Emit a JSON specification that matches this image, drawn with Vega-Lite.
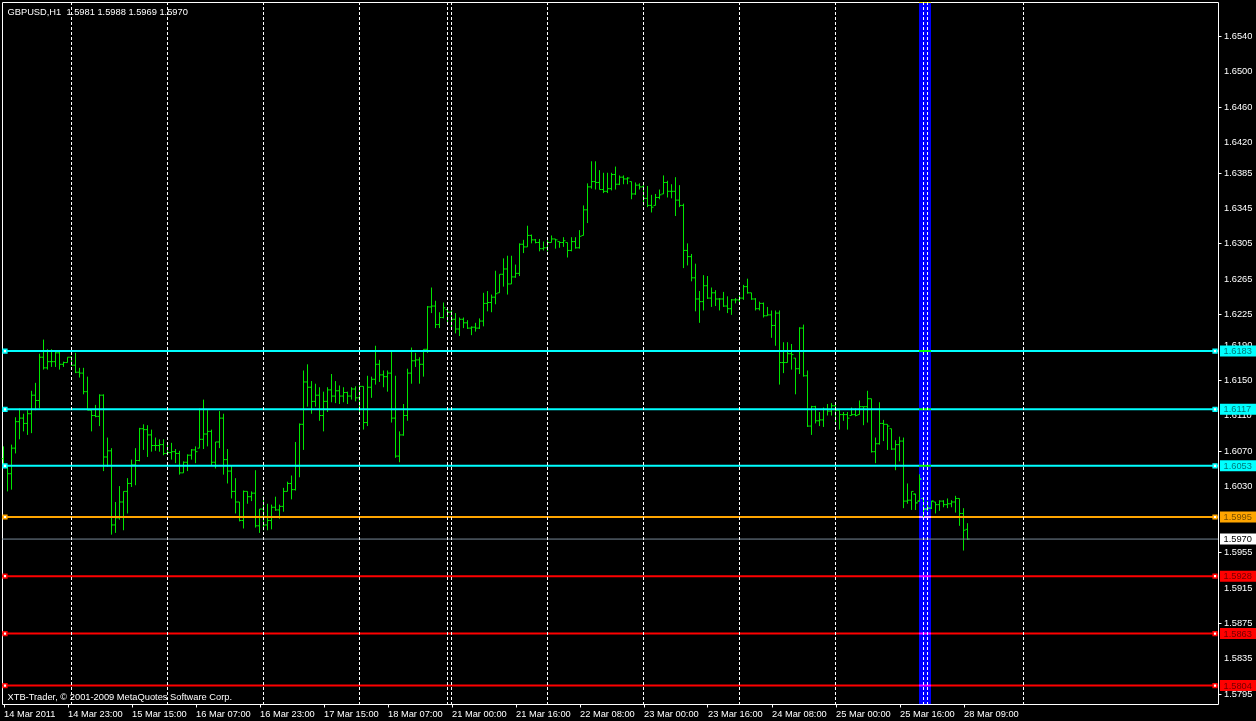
{
  "$schema": "https://vega.github.io/schema/vega-lite/v6.json",
  "width": 1216,
  "height": 702,
  "autosize": {"type": "none"},
  "padding": {"left": 2, "top": 2, "right": 38, "bottom": 17},
  "background": "#000000",
  "config": {"view": {"stroke": "#ffffff", "strokeWidth": 1, "fill": "#000000"}, "font": "Liberation Sans", "axis": {"labelOverlap": false, "labelFlush": false}},
  "datasets": {
    "levels": [
      {"price": 1.6183, "kind": "resistance"},
      {"price": 1.6117, "kind": "resistance"},
      {"price": 1.6053, "kind": "resistance"},
      {"price": 1.5995, "kind": "pivot"},
      {"price": 1.5970, "kind": "bid"},
      {"price": 1.5928, "kind": "support"},
      {"price": 1.5863, "kind": "support"},
      {"price": 1.5804, "kind": "support"}
    ],
    "yticks": [{"v": 1.654}, {"v": 1.65}, {"v": 1.646}, {"v": 1.642}, {"v": 1.6385}, {"v": 1.6345}, {"v": 1.6305}, {"v": 1.6265}, {"v": 1.6225}, {"v": 1.619}, {"v": 1.615}, {"v": 1.611}, {"v": 1.607}, {"v": 1.603}, {"v": 1.5955}, {"v": 1.5915}, {"v": 1.5875}, {"v": 1.5835}, {"v": 1.5795}],
    "marker": [{"name": "weekend marker"}],
    "days": [{"i": 17}, {"i": 41}, {"i": 65}, {"i": 89}, {"i": 111}, {"i": 112}, {"i": 136}, {"i": 160}, {"i": 184}, {"i": 208}, {"i": 230}, {"i": 231}, {"i": 255}],
    "bars": [
      {"i":0,"o":1.6061,"h":1.6075,"l":1.6052,"c":1.6054},
      {"i":1,"o":1.6053,"h":1.6053,"l":1.6024,"c":1.6044},
      {"i":2,"o":1.6044,"h":1.6077,"l":1.6026,"c":1.6073},
      {"i":3,"o":1.6073,"h":1.6108,"l":1.6067,"c":1.6103},
      {"i":4,"o":1.6103,"h":1.6118,"l":1.6083,"c":1.6107},
      {"i":5,"o":1.6107,"h":1.6112,"l":1.6092,"c":1.6101},
      {"i":6,"o":1.6101,"h":1.6116,"l":1.6088,"c":1.6112},
      {"i":7,"o":1.6112,"h":1.6138,"l":1.6090,"c":1.6133},
      {"i":8,"o":1.6133,"h":1.6147,"l":1.6116,"c":1.6127},
      {"i":9,"o":1.6127,"h":1.6180,"l":1.6118,"c":1.6176},
      {"i":10,"o":1.6176,"h":1.6196,"l":1.6162,"c":1.6164},
      {"i":11,"o":1.6164,"h":1.6185,"l":1.6162,"c":1.6171},
      {"i":12,"o":1.6171,"h":1.6185,"l":1.6165,"c":1.6171},
      {"i":13,"o":1.6171,"h":1.6183,"l":1.6165,"c":1.6181},
      {"i":14,"o":1.6181,"h":1.6182,"l":1.6162,"c":1.6168},
      {"i":15,"o":1.6168,"h":1.6171,"l":1.6165,"c":1.6170},
      {"i":16,"o":1.6170,"h":1.6176,"l":1.6170,"c":1.6176},
      {"i":17,"o":1.6176,"h":1.6177,"l":1.6166,"c":1.6167},
      {"i":18,"o":1.6167,"h":1.6181,"l":1.6158,"c":1.6159},
      {"i":19,"o":1.6159,"h":1.6164,"l":1.6153,"c":1.6158},
      {"i":20,"o":1.6158,"h":1.6164,"l":1.6134,"c":1.6137},
      {"i":21,"o":1.6137,"h":1.6154,"l":1.6116,"c":1.6116},
      {"i":22,"o":1.6116,"h":1.6116,"l":1.6092,"c":1.6110},
      {"i":23,"o":1.6110,"h":1.6122,"l":1.6108,"c":1.6109},
      {"i":24,"o":1.6109,"h":1.6134,"l":1.6098,"c":1.6133},
      {"i":25,"o":1.6133,"h":1.6134,"l":1.6047,"c":1.6063},
      {"i":26,"o":1.6063,"h":1.6085,"l":1.6052,"c":1.6070},
      {"i":27,"o":1.6070,"h":1.6073,"l":1.5975,"c":1.5986},
      {"i":28,"o":1.5986,"h":1.6012,"l":1.5977,"c":1.5994},
      {"i":29,"o":1.5994,"h":1.6030,"l":1.5992,"c":1.6012},
      {"i":30,"o":1.6012,"h":1.6024,"l":1.5980,"c":1.6024},
      {"i":31,"o":1.6024,"h":1.6039,"l":1.5999,"c":1.6033},
      {"i":32,"o":1.6033,"h":1.6060,"l":1.6029,"c":1.6054},
      {"i":33,"o":1.6054,"h":1.6073,"l":1.6031,"c":1.6059},
      {"i":34,"o":1.6059,"h":1.6096,"l":1.6058,"c":1.6095},
      {"i":35,"o":1.6095,"h":1.6100,"l":1.6071,"c":1.6094},
      {"i":36,"o":1.6094,"h":1.6099,"l":1.6063,"c":1.6088},
      {"i":37,"o":1.6088,"h":1.6094,"l":1.6069,"c":1.6076},
      {"i":38,"o":1.6076,"h":1.6085,"l":1.6070,"c":1.6076},
      {"i":39,"o":1.6076,"h":1.6083,"l":1.6069,"c":1.6077},
      {"i":40,"o":1.6077,"h":1.6083,"l":1.6065,"c":1.6067},
      {"i":41,"o":1.6067,"h":1.6078,"l":1.6065,"c":1.6068},
      {"i":42,"o":1.6068,"h":1.6079,"l":1.6060,"c":1.6069},
      {"i":43,"o":1.6069,"h":1.6072,"l":1.6056,"c":1.6067},
      {"i":44,"o":1.6067,"h":1.6070,"l":1.6043,"c":1.6045},
      {"i":45,"o":1.6045,"h":1.6058,"l":1.6045,"c":1.6057},
      {"i":46,"o":1.6057,"h":1.6066,"l":1.6047,"c":1.6065},
      {"i":47,"o":1.6065,"h":1.6072,"l":1.6060,"c":1.6071},
      {"i":48,"o":1.6071,"h":1.6075,"l":1.6056,"c":1.6069},
      {"i":49,"o":1.6073,"h":1.6118,"l":1.6073,"c":1.6083},
      {"i":50,"o":1.6083,"h":1.6128,"l":1.6072,"c":1.6089},
      {"i":51,"o":1.6089,"h":1.6116,"l":1.6075,"c":1.6092},
      {"i":52,"o":1.6092,"h":1.6094,"l":1.6053,"c":1.6057},
      {"i":53,"o":1.6057,"h":1.6080,"l":1.6050,"c":1.6080},
      {"i":54,"o":1.6080,"h":1.6115,"l":1.6073,"c":1.6107},
      {"i":55,"o":1.6107,"h":1.6112,"l":1.6043,"c":1.6060},
      {"i":56,"o":1.6060,"h":1.6072,"l":1.6033,"c":1.6047},
      {"i":57,"o":1.6047,"h":1.6053,"l":1.6016,"c":1.6024},
      {"i":58,"o":1.6024,"h":1.6039,"l":1.5999,"c":1.6012},
      {"i":59,"o":1.6012,"h":1.6012,"l":1.5990,"c":1.5991},
      {"i":60,"o":1.5991,"h":1.6025,"l":1.5982,"c":1.6024},
      {"i":61,"o":1.6024,"h":1.6024,"l":1.6010,"c":1.6018},
      {"i":62,"o":1.6018,"h":1.6024,"l":1.6013,"c":1.6022},
      {"i":63,"o":1.6022,"h":1.6048,"l":1.5983,"c":1.5985},
      {"i":64,"o":1.5985,"h":1.6004,"l":1.5977,"c":1.6004},
      {"i":65,"o":1.6004,"h":1.6018,"l":1.5980,"c":1.5986},
      {"i":66,"o":1.5986,"h":1.6010,"l":1.5980,"c":1.5991},
      {"i":67,"o":1.5991,"h":1.6009,"l":1.5981,"c":1.6006},
      {"i":68,"o":1.6006,"h":1.6018,"l":1.6002,"c":1.6003},
      {"i":69,"o":1.6003,"h":1.6009,"l":1.5993,"c":1.6007},
      {"i":70,"o":1.6007,"h":1.6028,"l":1.6001,"c":1.6024},
      {"i":71,"o":1.6024,"h":1.6035,"l":1.6024,"c":1.6033},
      {"i":72,"o":1.6033,"h":1.6042,"l":1.6015,"c":1.6026},
      {"i":73,"o":1.6026,"h":1.6080,"l":1.6025,"c":1.6053},
      {"i":74,"o":1.6053,"h":1.6101,"l":1.6040,"c":1.6100},
      {"i":75,"o":1.6100,"h":1.6161,"l":1.6071,"c":1.6148},
      {"i":76,"o":1.6148,"h":1.6168,"l":1.6120,"c":1.6142},
      {"i":77,"o":1.6142,"h":1.6149,"l":1.6112,"c":1.6126},
      {"i":78,"o":1.6126,"h":1.6146,"l":1.6120,"c":1.6133},
      {"i":79,"o":1.6133,"h":1.6142,"l":1.6104,"c":1.6110},
      {"i":80,"o":1.6110,"h":1.6137,"l":1.6092,"c":1.6126},
      {"i":81,"o":1.6126,"h":1.6142,"l":1.6114,"c":1.6139},
      {"i":82,"o":1.6139,"h":1.6157,"l":1.6125,"c":1.6132},
      {"i":83,"o":1.6132,"h":1.6149,"l":1.6124,"c":1.6138},
      {"i":84,"o":1.6138,"h":1.6144,"l":1.6123,"c":1.6132},
      {"i":85,"o":1.6132,"h":1.6142,"l":1.6125,"c":1.6136},
      {"i":86,"o":1.6136,"h":1.6137,"l":1.6123,"c":1.6132},
      {"i":87,"o":1.6132,"h":1.6142,"l":1.6128,"c":1.6140},
      {"i":88,"o":1.6140,"h":1.6143,"l":1.6126,"c":1.6130},
      {"i":89,"o":1.6130,"h":1.6144,"l":1.6114,"c":1.6143},
      {"i":90,"o":1.6143,"h":1.6143,"l":1.6094,"c":1.6102},
      {"i":91,"o":1.6102,"h":1.6155,"l":1.6098,"c":1.6142},
      {"i":92,"o":1.6142,"h":1.6154,"l":1.6130,"c":1.6151},
      {"i":93,"o":1.6151,"h":1.6189,"l":1.6145,"c":1.6168},
      {"i":94,"o":1.6168,"h":1.6173,"l":1.6148,"c":1.6156},
      {"i":95,"o":1.6156,"h":1.6161,"l":1.6142,"c":1.6154},
      {"i":96,"o":1.6154,"h":1.6161,"l":1.6137,"c":1.6158},
      {"i":97,"o":1.6158,"h":1.6183,"l":1.6102,"c":1.6107},
      {"i":98,"o":1.6107,"h":1.6155,"l":1.6062,"c":1.6064},
      {"i":99,"o":1.6064,"h":1.6092,"l":1.6057,"c":1.6088},
      {"i":100,"o":1.6088,"h":1.6123,"l":1.6087,"c":1.6110},
      {"i":101,"o":1.6110,"h":1.6163,"l":1.6104,"c":1.6158},
      {"i":102,"o":1.6158,"h":1.6187,"l":1.6146,"c":1.6172},
      {"i":103,"o":1.6172,"h":1.6181,"l":1.6165,"c":1.6173},
      {"i":104,"o":1.6173,"h":1.6176,"l":1.6146,"c":1.6168},
      {"i":105,"o":1.6168,"h":1.6185,"l":1.6154,"c":1.6185},
      {"i":106,"o":1.6185,"h":1.6234,"l":1.6181,"c":1.6233},
      {"i":107,"o":1.6233,"h":1.6255,"l":1.6226,"c":1.6234},
      {"i":108,"o":1.6234,"h":1.6240,"l":1.6209,"c":1.6213},
      {"i":109,"o":1.6213,"h":1.6227,"l":1.6209,"c":1.6221},
      {"i":110,"o":1.6221,"h":1.6238,"l":1.6220,"c":1.6232},
      {"i":111,"o":1.6230,"h":1.6230,"l":1.6213,"c":1.6227},
      {"i":112,"o":1.6227,"h":1.6229,"l":1.6209,"c":1.6219},
      {"i":113,"o":1.6219,"h":1.6226,"l":1.6203,"c":1.6208},
      {"i":114,"o":1.6208,"h":1.6221,"l":1.6200,"c":1.6219},
      {"i":115,"o":1.6219,"h":1.6221,"l":1.6209,"c":1.6215},
      {"i":116,"o":1.6215,"h":1.6218,"l":1.6208,"c":1.6209},
      {"i":117,"o":1.6209,"h":1.6211,"l":1.6201,"c":1.6210},
      {"i":118,"o":1.6210,"h":1.6215,"l":1.6205,"c":1.6209},
      {"i":119,"o":1.6209,"h":1.6220,"l":1.6208,"c":1.6217},
      {"i":120,"o":1.6217,"h":1.6249,"l":1.6211,"c":1.6237},
      {"i":121,"o":1.6237,"h":1.6251,"l":1.6228,"c":1.6238},
      {"i":122,"o":1.6238,"h":1.6247,"l":1.6227,"c":1.6244},
      {"i":123,"o":1.6244,"h":1.6274,"l":1.6236,"c":1.6248},
      {"i":124,"o":1.6249,"h":1.6270,"l":1.6249,"c":1.6270},
      {"i":125,"o":1.6270,"h":1.6288,"l":1.6256,"c":1.6276},
      {"i":126,"o":1.6276,"h":1.6291,"l":1.6247,"c":1.6259},
      {"i":127,"o":1.6259,"h":1.6291,"l":1.6259,"c":1.6267},
      {"i":128,"o":1.6267,"h":1.6281,"l":1.6266,"c":1.6271},
      {"i":129,"o":1.6271,"h":1.6305,"l":1.6268,"c":1.6304},
      {"i":130,"o":1.6304,"h":1.6309,"l":1.6294,"c":1.6301},
      {"i":131,"o":1.6301,"h":1.6325,"l":1.6301,"c":1.6314},
      {"i":132,"o":1.6314,"h":1.6315,"l":1.6305,"c":1.6309},
      {"i":133,"o":1.6309,"h":1.6310,"l":1.6305,"c":1.6306},
      {"i":134,"o":1.6306,"h":1.6310,"l":1.6296,"c":1.6299},
      {"i":135,"o":1.6299,"h":1.6307,"l":1.6297,"c":1.6300},
      {"i":136,"o":1.6300,"h":1.6309,"l":1.6296,"c":1.6306},
      {"i":137,"o":1.6306,"h":1.6314,"l":1.6306,"c":1.6310},
      {"i":138,"o":1.6310,"h":1.6310,"l":1.6299,"c":1.6309},
      {"i":139,"o":1.6307,"h":1.6307,"l":1.6300,"c":1.6306},
      {"i":140,"o":1.6306,"h":1.6312,"l":1.6301,"c":1.6308},
      {"i":141,"o":1.6306,"h":1.6306,"l":1.6289,"c":1.6297},
      {"i":142,"o":1.6297,"h":1.6312,"l":1.6296,"c":1.6307},
      {"i":143,"o":1.6307,"h":1.6312,"l":1.6299,"c":1.6300},
      {"i":144,"o":1.6300,"h":1.6320,"l":1.6299,"c":1.6313},
      {"i":145,"o":1.6314,"h":1.6348,"l":1.6314,"c":1.6343},
      {"i":146,"o":1.6343,"h":1.6373,"l":1.6328,"c":1.6369},
      {"i":147,"o":1.6369,"h":1.6398,"l":1.6367,"c":1.6375},
      {"i":148,"o":1.6375,"h":1.6398,"l":1.6366,"c":1.6374},
      {"i":149,"o":1.6374,"h":1.6388,"l":1.6366,"c":1.6366},
      {"i":150,"o":1.6366,"h":1.6385,"l":1.6362,"c":1.6364},
      {"i":151,"o":1.6364,"h":1.6385,"l":1.6362,"c":1.6367},
      {"i":152,"o":1.6367,"h":1.6385,"l":1.6365,"c":1.6383},
      {"i":153,"o":1.6383,"h":1.6392,"l":1.6366,"c":1.6372},
      {"i":154,"o":1.6372,"h":1.6382,"l":1.6371,"c":1.6380},
      {"i":155,"o":1.6380,"h":1.6382,"l":1.6372,"c":1.6378},
      {"i":156,"o":1.6378,"h":1.6380,"l":1.6372,"c":1.6379},
      {"i":157,"o":1.6375,"h":1.6375,"l":1.6355,"c":1.6361},
      {"i":158,"o":1.6361,"h":1.6374,"l":1.6360,"c":1.6371},
      {"i":159,"o":1.6371,"h":1.6373,"l":1.6366,"c":1.6369},
      {"i":160,"o":1.6369,"h":1.6371,"l":1.6348,"c":1.6356},
      {"i":161,"o":1.6356,"h":1.6370,"l":1.6346,"c":1.6348},
      {"i":162,"o":1.6348,"h":1.6360,"l":1.6340,"c":1.6346},
      {"i":163,"o":1.6348,"h":1.6361,"l":1.6348,"c":1.6357},
      {"i":164,"o":1.6357,"h":1.6366,"l":1.6355,"c":1.6360},
      {"i":165,"o":1.6361,"h":1.6382,"l":1.6361,"c":1.6374},
      {"i":166,"o":1.6374,"h":1.6376,"l":1.6357,"c":1.6364},
      {"i":167,"o":1.6364,"h":1.6372,"l":1.6356,"c":1.6364},
      {"i":168,"o":1.6364,"h":1.6380,"l":1.6336,"c":1.6354},
      {"i":169,"o":1.6354,"h":1.6371,"l":1.6346,"c":1.6348},
      {"i":170,"o":1.6348,"h":1.6350,"l":1.6277,"c":1.6297},
      {"i":171,"o":1.6297,"h":1.6305,"l":1.6280,"c":1.6290},
      {"i":172,"o":1.6290,"h":1.6293,"l":1.6262,"c":1.6266},
      {"i":173,"o":1.6266,"h":1.6282,"l":1.6228,"c":1.6242},
      {"i":174,"o":1.6242,"h":1.6251,"l":1.6215,"c":1.6239},
      {"i":175,"o":1.6239,"h":1.6269,"l":1.6229,"c":1.6257},
      {"i":176,"o":1.6257,"h":1.6268,"l":1.6242,"c":1.6243},
      {"i":177,"o":1.6243,"h":1.6255,"l":1.6233,"c":1.6249},
      {"i":178,"o":1.6249,"h":1.6252,"l":1.6234,"c":1.6242},
      {"i":179,"o":1.6242,"h":1.6243,"l":1.6229,"c":1.6242},
      {"i":180,"o":1.6242,"h":1.6250,"l":1.6233,"c":1.6234},
      {"i":181,"o":1.6234,"h":1.6245,"l":1.6226,"c":1.6231},
      {"i":182,"o":1.6231,"h":1.6242,"l":1.6224,"c":1.6241},
      {"i":183,"o":1.6241,"h":1.6243,"l":1.6237,"c":1.6241},
      {"i":184,"o":1.6241,"h":1.6246,"l":1.6237,"c":1.6243},
      {"i":185,"o":1.6243,"h":1.6258,"l":1.6241,"c":1.6256},
      {"i":186,"o":1.6256,"h":1.6265,"l":1.6248,"c":1.6249},
      {"i":187,"o":1.6249,"h":1.6249,"l":1.6241,"c":1.6242},
      {"i":188,"o":1.6242,"h":1.6243,"l":1.6229,"c":1.6231},
      {"i":189,"o":1.6231,"h":1.6239,"l":1.6229,"c":1.6237},
      {"i":190,"o":1.6237,"h":1.6238,"l":1.6221,"c":1.6223},
      {"i":191,"o":1.6223,"h":1.6233,"l":1.6223,"c":1.6224},
      {"i":192,"o":1.6224,"h":1.6229,"l":1.6198,"c":1.6212},
      {"i":193,"o":1.6212,"h":1.6229,"l":1.6189,"c":1.6226},
      {"i":194,"o":1.6226,"h":1.6229,"l":1.6145,"c":1.6170},
      {"i":195,"o":1.6170,"h":1.6193,"l":1.6158,"c":1.6170},
      {"i":196,"o":1.6170,"h":1.6193,"l":1.6170,"c":1.6180},
      {"i":197,"o":1.6180,"h":1.6191,"l":1.6162,"c":1.6179},
      {"i":198,"o":1.6175,"h":1.6175,"l":1.6134,"c":1.6163},
      {"i":199,"o":1.6163,"h":1.6210,"l":1.6157,"c":1.6209},
      {"i":200,"o":1.6209,"h":1.6213,"l":1.6154,"c":1.6155},
      {"i":201,"o":1.6155,"h":1.6161,"l":1.6097,"c":1.6098},
      {"i":202,"o":1.6098,"h":1.6121,"l":1.6088,"c":1.6120},
      {"i":203,"o":1.6120,"h":1.6121,"l":1.6101,"c":1.6104},
      {"i":204,"o":1.6104,"h":1.6114,"l":1.6098,"c":1.6105},
      {"i":205,"o":1.6105,"h":1.6119,"l":1.6097,"c":1.6117},
      {"i":206,"o":1.6117,"h":1.6123,"l":1.6110,"c":1.6115},
      {"i":207,"o":1.6115,"h":1.6124,"l":1.6110,"c":1.6121},
      {"i":208,"o":1.6121,"h":1.6123,"l":1.6100,"c":1.6116},
      {"i":209,"o":1.6116,"h":1.6116,"l":1.6094,"c":1.6111},
      {"i":210,"o":1.6111,"h":1.6114,"l":1.6104,"c":1.6111},
      {"i":211,"o":1.6111,"h":1.6114,"l":1.6094,"c":1.6107},
      {"i":212,"o":1.6110,"h":1.6119,"l":1.6110,"c":1.6111},
      {"i":213,"o":1.6111,"h":1.6118,"l":1.6109,"c":1.6110},
      {"i":214,"o":1.6111,"h":1.6127,"l":1.6111,"c":1.6120},
      {"i":215,"o":1.6120,"h":1.6120,"l":1.6099,"c":1.6120},
      {"i":216,"o":1.6120,"h":1.6138,"l":1.6102,"c":1.6129},
      {"i":217,"o":1.6129,"h":1.6129,"l":1.6068,"c":1.6069},
      {"i":218,"o":1.6069,"h":1.6085,"l":1.6056,"c":1.6078},
      {"i":219,"o":1.6078,"h":1.6125,"l":1.6077,"c":1.6101},
      {"i":220,"o":1.6101,"h":1.6105,"l":1.6081,"c":1.6100},
      {"i":221,"o":1.6100,"h":1.6100,"l":1.6071,"c":1.6098},
      {"i":222,"o":1.6095,"h":1.6095,"l":1.6071,"c":1.6072},
      {"i":223,"o":1.6072,"h":1.6082,"l":1.6048,"c":1.6077},
      {"i":224,"o":1.6077,"h":1.6086,"l":1.6058,"c":1.6081},
      {"i":225,"o":1.6081,"h":1.6085,"l":1.6005,"c":1.6013},
      {"i":226,"o":1.6013,"h":1.6033,"l":1.6010,"c":1.6014},
      {"i":227,"o":1.6014,"h":1.6024,"l":1.6003,"c":1.6024},
      {"i":228,"o":1.6021,"h":1.6021,"l":1.6003,"c":1.6011},
      {"i":229,"o":1.6013,"h":1.6043,"l":1.6013,"c":1.6038},
      {"i":230,"o":1.6016,"h":1.6016,"l":1.5993,"c":1.6004},
      {"i":231,"o":1.6004,"h":1.6013,"l":1.6002,"c":1.6005},
      {"i":232,"o":1.6005,"h":1.6013,"l":1.6004,"c":1.6013},
      {"i":233,"o":1.6012,"h":1.6012,"l":1.5999,"c":1.6009},
      {"i":234,"o":1.6009,"h":1.6014,"l":1.6002,"c":1.6013},
      {"i":235,"o":1.6013,"h":1.6014,"l":1.6006,"c":1.6009},
      {"i":236,"o":1.6009,"h":1.6016,"l":1.6005,"c":1.6010},
      {"i":237,"o":1.6010,"h":1.6014,"l":1.6006,"c":1.6012},
      {"i":238,"o":1.6012,"h":1.6019,"l":1.6000,"c":1.6016},
      {"i":239,"o":1.6016,"h":1.6016,"l":1.5985,"c":1.5999},
      {"i":240,"o":1.5999,"h":1.6005,"l":1.5957,"c":1.5980},
      {"i":241,"o":1.5981,"h":1.5988,"l":1.5969,"c":1.5970}
    ]
  },
  "layer": [
    {
      "data": {"name": "bars"},
      "mark": {"type": "rule", "color": "#00e600", "strokeWidth": 1},
      "encoding": {
        "x": {"field": "i", "type": "quantitative", "scale": {"domain": [-0.375, 303.625], "nice": false, "zero": false},
          "axis": {"orient": "bottom", "values": [0, 16, 32, 48, 64, 80, 96, 112, 128, 144, 160, 176, 192, 208, 224, 240],
            "labelExpr": "['14 Mar 2011','14 Mar 23:00','15 Mar 15:00','16 Mar 07:00','16 Mar 23:00','17 Mar 15:00','18 Mar 07:00','21 Mar 00:00','21 Mar 16:00','22 Mar 08:00','23 Mar 00:00','23 Mar 16:00','24 Mar 08:00','25 Mar 00:00','25 Mar 16:00','28 Mar 09:00'][round(datum.value / 16)]",
            "title": "XTB-Trader, © 2001-2009 MetaQuotes Software Corp.", "titleX": 5, "titleY": -5, "titleAlign": "left", "titleBaseline": "alphabetic", "titleAngle": 0, "titleColor": "#ffffff", "titleFont": "Liberation Sans", "titleFontSize": 9.3, "titleFontWeight": "normal",
            "domain": false, "grid": false, "ticks": true, "tickColor": "#ffffff", "tickSize": 3, "labelColor": "#ffffff", "labelFont": "Liberation Sans", "labelFontSize": 9.3, "labelAlign": "left", "labelBaseline": "top", "labelPadding": 2, "labelFlush": false, "labelOverlap": false, "labelBound": false}},
        "y": {"field": "l", "type": "quantitative", "scale": {"domain": [1.57888, 1.65728], "nice": false, "zero": false},
          "axis": {"orient": "right", "values": [1.654, 1.65, 1.646, 1.642, 1.6385, 1.6345, 1.6305, 1.6265, 1.6225, 1.619, 1.615, 1.611, 1.607, 1.603, 1.5955, 1.5915, 1.5875, 1.5835, 1.5795], "labels": false,
            "title": "GBPUSD,H1\u00a0 1.5981 1.5988 1.5969 1.5970", "titleX": -1211, "titleY": 12, "titleAngle": 0, "titleAlign": "left", "titleBaseline": "alphabetic", "titleColor": "#ffffff", "titleFont": "Liberation Sans", "titleFontSize": 9.3, "titleFontWeight": "normal",
            "domain": false, "grid": false, "ticks": true, "tickColor": "#ffffff", "tickSize": 3}},
        "y2": {"field": "h"}
      }
    },
    {
      "data": {"name": "bars"},
      "mark": {"type": "rule", "color": "#00e600", "strokeWidth": 1, "xOffset": -2, "x2Offset": 0},
      "encoding": {
        "x": {"field": "i", "type": "quantitative"},
        "x2": {"field": "i"},
        "y": {"field": "o", "type": "quantitative"}
      }
    },
    {
      "data": {"name": "bars"},
      "mark": {"type": "rule", "color": "#00e600", "strokeWidth": 1, "xOffset": 0, "x2Offset": 2},
      "encoding": {
        "x": {"field": "i", "type": "quantitative"},
        "x2": {"field": "i"},
        "y": {"field": "c", "type": "quantitative"}
      }
    },
    {
      "data": {"name": "levels"},
      "mark": {"type": "rule"},
      "encoding": {
        "y": {"field": "price", "type": "quantitative"},
        "color": {"field": "kind", "type": "nominal", "scale": {"domain": ["resistance", "pivot", "bid", "support"], "range": ["#00ffff", "#ffa500", "#778899", "#ff0000"]}, "legend": null},
        "strokeWidth": {"condition": {"test": "datum.kind == 'bid'", "value": 1}, "value": 2}
      }
    },
    {
      "data": {"name": "marker"},
      "mark": {"type": "rect", "color": "#0000ff", "blend": "difference"},
      "encoding": {
        "x": {"datum": 228.875, "type": "quantitative"},
        "x2": {"datum": 231.875},
        "y": {"value": 0},
        "y2": {"value": "height"}
      }
    },
    {
      "data": {"name": "bars"},
      "transform": [{"filter": "datum.i >= 228 && datum.i <= 232"}],
      "mark": {"type": "rule", "color": "#00e600", "strokeWidth": 1},
      "encoding": {
        "x": {"field": "i", "type": "quantitative"},
        "y": {"field": "l", "type": "quantitative"},
        "y2": {"field": "h"}
      }
    },
    {
      "data": {"name": "bars"},
      "transform": [{"filter": "datum.i >= 228 && datum.i <= 232"}],
      "mark": {"type": "rule", "color": "#00e600", "strokeWidth": 1, "xOffset": -2, "x2Offset": 0},
      "encoding": {
        "x": {"field": "i", "type": "quantitative"},
        "x2": {"field": "i"},
        "y": {"field": "o", "type": "quantitative"}
      }
    },
    {
      "data": {"name": "bars"},
      "transform": [{"filter": "datum.i >= 228 && datum.i <= 232"}],
      "mark": {"type": "rule", "color": "#00e600", "strokeWidth": 1, "xOffset": 0, "x2Offset": 2},
      "encoding": {
        "x": {"field": "i", "type": "quantitative"},
        "x2": {"field": "i"},
        "y": {"field": "c", "type": "quantitative"}
      }
    },
    {
      "data": {"name": "days"},
      "mark": {"type": "rule", "color": "#ffffff", "strokeWidth": 1, "strokeDash": [3, 2]},
      "encoding": {
        "x": {"field": "i", "type": "quantitative"}
      }
    },
    {
      "data": {"name": "levels"},
      "transform": [{"filter": "datum.kind != 'bid'"}],
      "mark": {"type": "point", "shape": "square", "filled": true, "fill": "#ffffff", "size": 14, "strokeWidth": 1.5, "opacity": 1},
      "encoding": {
        "x": {"datum": 0.375, "type": "quantitative"},
        "y": {"field": "price", "type": "quantitative"},
        "stroke": {"field": "kind", "type": "nominal", "scale": {"domain": ["resistance", "pivot", "bid", "support"], "range": ["#00ffff", "#ffa500", "#778899", "#ff0000"]}, "legend": null}
      }
    },
    {
      "data": {"name": "levels"},
      "transform": [{"filter": "datum.kind != 'bid'"}],
      "mark": {"type": "point", "shape": "square", "filled": true, "fill": "#ffffff", "size": 14, "strokeWidth": 1.5, "opacity": 1},
      "encoding": {
        "x": {"datum": 302.875, "type": "quantitative"},
        "y": {"field": "price", "type": "quantitative"},
        "stroke": {"field": "kind", "type": "nominal", "scale": {"domain": ["resistance", "pivot", "bid", "support"], "range": ["#00ffff", "#ffa500", "#778899", "#ff0000"]}, "legend": null}
      }
    },
    {
      "data": {"name": "yticks"},
      "mark": {"type": "text", "align": "left", "baseline": "middle", "font": "Liberation Sans", "fontSize": 9.3, "color": "#ffffff"},
      "encoding": {
        "x": {"datum": 305.125, "type": "quantitative"},
        "y": {"field": "v", "type": "quantitative"},
        "text": {"field": "v", "type": "quantitative", "format": ".4f"}
      }
    },
    {
      "data": {"name": "levels"},
      "mark": {"type": "bar", "orient": "horizontal", "size": 11},
      "encoding": {
        "x": {"datum": 304.125, "type": "quantitative"},
        "x2": {"datum": 313.5},
        "y": {"field": "price", "type": "quantitative"},
        "color": {"condition": {"test": "datum.kind == 'bid'", "value": "#ffffff"}, "field": "kind", "type": "nominal", "scale": {"domain": ["resistance", "pivot", "bid", "support"], "range": ["#00ffff", "#ffa500", "#778899", "#ff0000"]}, "legend": null}
      }
    },
    {
      "data": {"name": "levels"},
      "mark": {"type": "text", "align": "left", "baseline": "middle", "font": "Liberation Sans", "fontSize": 9.3, "color": "#000000"},
      "encoding": {
        "x": {"datum": 305.0, "type": "quantitative"},
        "y": {"field": "price", "type": "quantitative"},
        "text": {"field": "price", "type": "quantitative", "format": ".4f"},
        "opacity": {"condition": {"test": "datum.kind == 'bid'", "value": 1}, "value": 0.55}
      }
    }
  ]
}
